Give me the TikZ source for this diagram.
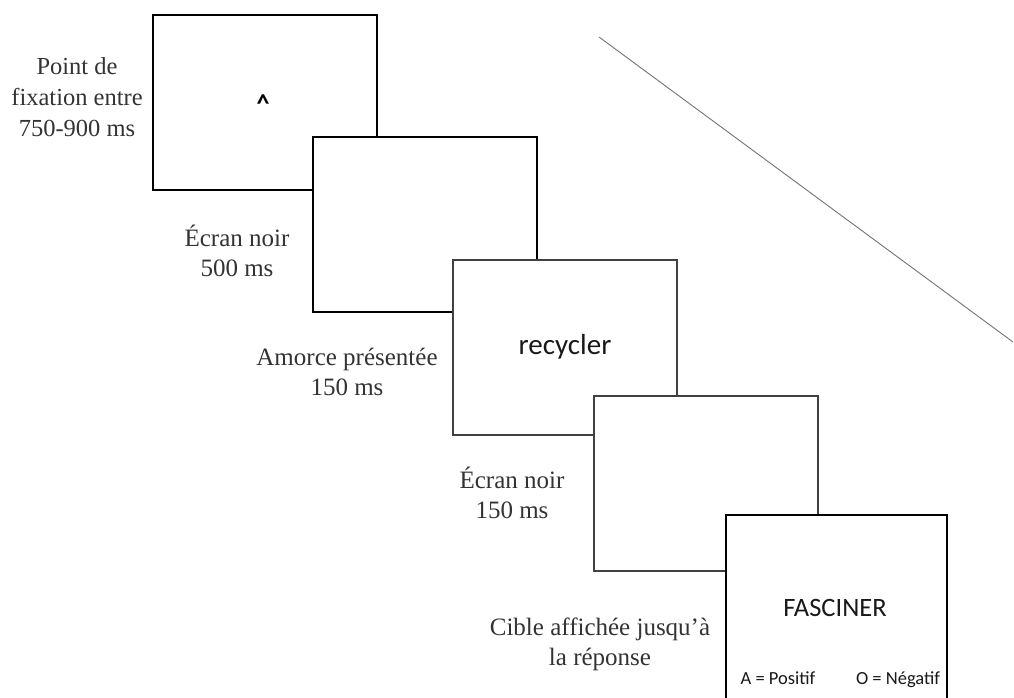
\documentclass[tikz,border=0pt]{standalone}
\usepackage{fontspec}
\setmainfont{Liberation Serif}
\newfontfamily\calib{Carlito}
\begin{document}
\begin{tikzpicture}[x=1pt,y=-1pt,
  screen/.style={draw=black, line width=1.7pt, fill=white, minimum width=224pt, minimum height=175pt, anchor=north west, inner sep=0pt},
  screengray/.style={screen, draw=black!75},
  lbl/.style={align=center, text=black!80, font=\fontsize{25}{30}\selectfont, inner sep=0pt},
  word/.style={font=\calib\fontsize{29}{30}\selectfont, text=black!90, inner sep=0pt},
  small/.style={font=\calib\fontsize{18.5}{20}\selectfont, text=black!90, inner sep=0pt, anchor=base}]
\useasboundingbox (0,0) rectangle (1014,698);
\clip (0,0) rectangle (1014,698);
% diagonal line
\coordinate (d1) at (599,37);
\coordinate (d2) at (1013,342);
\draw[black!55, line width=0.9pt] (d1) -- (d2);
% screens
\node[screen] (s1) at (152,14) {};
\node[screen] (s2) at (312,136) {};
\node[screengray] (s3) at (452,259) {};
\node[screengray] (s4) at (593,395) {};
\node[screen, minimum width=221pt, minimum height=200pt] (s5) at (725,514) {};
% screen contents
\node[font=\calib\bfseries\fontsize{26}{26}\selectfont, inner sep=0pt] (fix) at (263,104) {\textasciicircum};
\node[word] (prime) at (565,347) {recycler};
\node[word, font=\calib\fontsize{26.5}{30}\selectfont] (target) at (835,608) {FASCINER};
\node[small] (pos) at (778,684) {A = Positif};
\node[small] (neg) at (898,684) {O = Négatif};
% labels
\node[lbl, font=\fontsize{24.5}{31}\selectfont] (l1) at (77,97) {Point de\\fixation entre\\750-900 ms};
\node[lbl] (l2) at (237,251) {Écran noir\\500 ms};
\node[lbl] (l3) at (347,372) {Amorce présentée\\150 ms};
\node[lbl] (l4) at (512,493) {Écran noir\\150 ms};
\node[lbl] (l5) at (600,644) {Cible affichée jusqu’à\\la réponse};
\end{tikzpicture}
\end{document}
